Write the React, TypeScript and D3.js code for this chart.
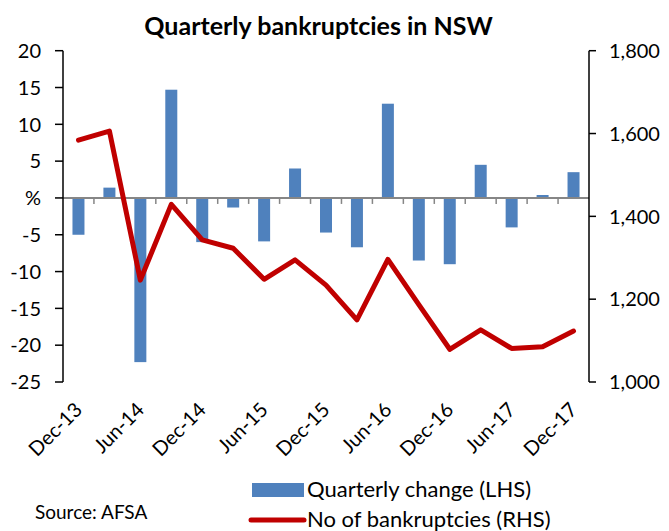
import React from 'react';
import * as d3 from 'd3';

const quarters = [
  'Dec-13', 'Mar-14', 'Jun-14', 'Sep-14', 'Dec-14', 'Mar-15', 'Jun-15', 'Sep-15', 'Dec-15',
  'Mar-16', 'Jun-16', 'Sep-16', 'Dec-16', 'Mar-17', 'Jun-17', 'Sep-17', 'Dec-17',
];
const quarterlyChange = [-5, 1.4, -22.3, 14.7, -6, -1.3, -5.9, 4, -4.7, -6.7, 12.8, -8.5, -9, 4.5, -4, 0.4, 3.5];
const bankruptcies = [1584, 1606, 1246, 1429, 1343, 1323, 1248, 1295, 1234, 1150, 1296, 1187, 1079, 1126, 1081, 1085, 1123];
const leftTicks = [20, 15, 10, 5, 0, -5, -10, -15, -20, -25];
const rightTicks = [1000, 1200, 1400, 1600, 1800];

const W = 669;
const H = 531;
const font = 'Lato, "Open Sans", sans-serif';

const App = () => {
  const left = 63;
  const right = 589;
  const top = 50.7;
  const bottom = 382;

  const x = d3.scaleBand<string>().domain(quarters).range([left, right]);
  const yL = d3.scaleLinear().domain([-25, 20]).range([bottom, top]);
  const yR = d3.scaleLinear().domain([1000, 1800]).range([bottom, top]);
  const barW = 12;
  const cx = (q: string) => (x(q) as number) + x.bandwidth() / 2;

  const line = d3
    .line<number>()
    .x((_, i) => cx(quarters[i]))
    .y(d => yR(d));

  const fmt = d3.format(',');

  return (
    <svg width={W} height={H} style={{ position: 'absolute', left: 0, top: 0 }} fontFamily={font}>
      <rect width={W} height={H} fill="#fff" />
      <text x={318.5} y={35} textAnchor="middle" fontSize={25} fontWeight="bold" fill="#000">
        Quarterly bankruptcies in NSW
      </text>

      {/* bars */}
      {quarterlyChange.map((v, i) => (
        <rect
          key={quarters[i]}
          x={cx(quarters[i]) - barW / 2}
          y={Math.min(yL(v), yL(0))}
          width={barW}
          height={Math.abs(yL(v) - yL(0))}
          fill="#4F81BD"
        />
      ))}

      {/* zero axis with category ticks */}
      <line x1={left} x2={right} y1={yL(0)} y2={yL(0)} stroke="#868686" strokeWidth={2} />
      {quarters.slice(1).map(q => (
        <line key={q} x1={x(q)} x2={x(q)} y1={yL(0)} y2={yL(0) + 6} stroke="#868686" strokeWidth={1.5} />
      ))}

      {/* line */}
      <path d={line(bankruptcies) || ''} fill="none" stroke="#C00000" strokeWidth={5} strokeLinejoin="round" strokeLinecap="round" />

      {/* left axis */}
      <line x1={left} x2={left} y1={top} y2={bottom} stroke="#000" strokeWidth={1.5} />
      {leftTicks.map(t => (
        <g key={t}>
          <line x1={left - 8} x2={left} y1={yL(t)} y2={yL(t)} stroke="#000" strokeWidth={1.5} />
          <text x={41} y={yL(t)} dy="0.36em" textAnchor="end" fontSize={20} fill="#000">
            {t === 0 ? '%' : t}
          </text>
        </g>
      ))}

      {/* right axis */}
      <line x1={right} x2={right} y1={top} y2={bottom} stroke="#000" strokeWidth={1.5} />
      {rightTicks.map(t => (
        <g key={t}>
          <line x1={right} x2={right + 7} y1={yR(t)} y2={yR(t)} stroke="#000" strokeWidth={1.5} />
          <text x={609} y={yR(t)} dy="0.36em" textAnchor="start" fontSize={20} fill="#000">
            {fmt(t)}
          </text>
        </g>
      ))}

      {/* x labels */}
      {quarters.filter((_, i) => i % 2 === 0).map(q => (
        <text
          key={q}
          transform={`translate(${cx(q) + 5},${411}) rotate(-45)`}
          textAnchor="end"
          fontSize={20}
          fill="#000"
        >
          {q}
        </text>
      ))}

      {/* legend */}
      <rect x={252} y={483} width={52} height={14} fill="#4F81BD" />
      <text x={307} y={497} fontSize={22} fill="#000">Quarterly change (LHS)</text>
      <line x1={251} x2={304} y1={520} y2={520} stroke="#C00000" strokeWidth={5} strokeLinecap="round" />
      <text x={307} y={527} fontSize={22} fill="#000">No of bankruptcies (RHS)</text>
      <text x={35} y={519} fontSize={19} fill="#000">Source: AFSA</text>
    </svg>
  );
};

export default App;
